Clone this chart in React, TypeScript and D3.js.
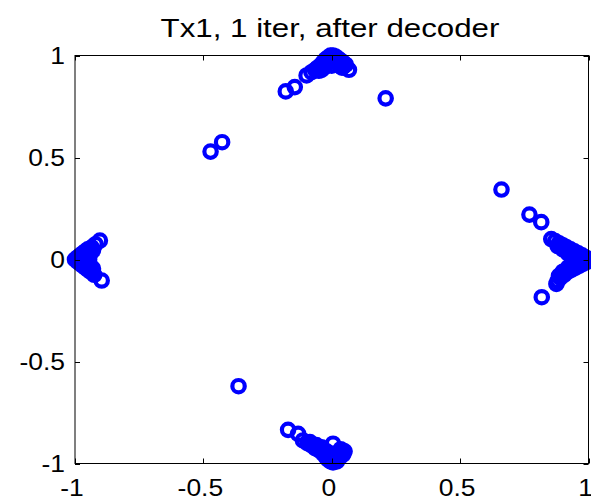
import React from "react";
import * as d3 from "d3";

const title = "Tx1, 1 iter, after decoder";
const xTicks = [-1, -0.5, 0, 0.5, 1];
const yTicks = [-1, -0.5, 0, 0.5, 1];

// Cluster near (0, 1)
const topX = [-0.179, -0.144, -0.098, -0.079, -0.065, -0.055, -0.045, -0.035, -0.025, -0.015, -0.005, 0.005, 0.015, 0.025, 0.035, 0.045, 0.055, 0.0, -0.02, 0.02, 0.01, -0.01, -0.04, -0.03, 0.03, 0.04, 0.0, -0.01, 0.01, -0.05, 0.0, 0.045, 0.067, 0.21];
const topY = [0.824, 0.845, 0.902, 0.918, 0.93, 0.94, 0.95, 0.965, 0.98, 0.99, 1.0, 1.0, 0.995, 0.985, 0.975, 0.965, 0.955, 0.97, 0.96, 0.97, 0.98, 0.975, 0.93, 0.94, 0.95, 0.94, 0.99, 0.99, 0.99, 0.925, 0.95, 0.945, 0.93, 0.79];

// Cluster near (1, 0)
const rightX = [0.661, 0.77, 0.816, 0.855, 0.87, 0.885, 0.9, 0.915, 0.93, 0.945, 0.96, 0.975, 0.99, 1.0, 0.875, 0.88, 0.89, 0.905, 0.92, 0.935, 0.95, 0.965, 0.98, 0.995, 0.94, 0.95, 0.95, 0.97, 0.9, 0.92, 0.95, 0.97, 0.9, 0.92, 0.98, 0.96, 0.99, 0.935, 0.935, 0.88, 0.885, 0.818];
const rightY = [0.343, 0.22, 0.183, 0.1, 0.09, 0.08, 0.07, 0.06, 0.05, 0.04, 0.03, 0.02, 0.01, 0.0, -0.12, -0.105, -0.09, -0.075, -0.06, -0.05, -0.04, -0.03, -0.02, -0.01, 0.0, 0.02, -0.02, 0.0, 0.05, 0.03, 0.03, 0.015, -0.06, -0.04, -0.005, 0.0, 0.0, 0.015, -0.015, 0.065, -0.08, -0.185];

// Cluster near (-1, 0)
const leftX = [-1.0, -0.99, -0.99, -0.98, -0.98, -0.97, -0.97, -0.96, -0.96, -0.95, -0.95, -0.935, -0.94, -0.925, -0.92, -0.96, -0.95, -0.95, -0.985, -0.975, -0.975, -0.965, -0.965, -0.94, -0.94, -0.93, -0.93, -0.945, -0.903, -0.896];
const leftY = [0.0, 0.01, -0.01, 0.02, -0.02, 0.03, -0.03, 0.04, -0.04, 0.05, -0.05, 0.06, -0.06, -0.075, 0.075, 0.0, 0.01, -0.01, 0.0, 0.01, -0.01, 0.02, -0.02, 0.03, -0.03, 0.045, -0.045, 0.0, 0.093, -0.103];

// Cluster near (0, -1)
const bottomX = [-0.17, -0.131, -0.112, -0.095, -0.08, -0.065, -0.05, -0.035, -0.025, -0.015, -0.005, 0.005, 0.015, 0.025, 0.035, 0.045, 0.05, 0.035, 0.02, 0.0, -0.01, -0.06, -0.04, -0.02, 0.0, 0.01, 0.03, 0.04, -0.085, 0.02, -0.01, 0.005];
const bottomY = [-0.835, -0.855, -0.887, -0.9, -0.91, -0.925, -0.935, -0.95, -0.965, -0.98, -0.99, -0.995, -0.985, -0.975, -0.965, -0.955, -0.94, -0.93, -0.95, -0.96, -0.95, -0.91, -0.92, -0.94, -0.975, -0.965, -0.945, -0.94, -0.895, -0.99, -0.97, -0.903];

// Stray points
const strayX = [-0.472, -0.427, -0.363];
const strayY = [0.529, 0.575, -0.621];

const W = 591;
const H = 503;
const L = 75, R = 588.5, T = 55.5, B = 463.5;

export default function App() {
  const x = d3.scaleLinear().domain([-1, 1]).range([L, R]);
  const y = d3.scaleLinear().domain([-1, 1]).range([B, T]);

  const groups: [number[], number[]][] = [
    [topX, topY],
    [rightX, rightY],
    [leftX, leftY],
    [bottomX, bottomY],
    [strayX, strayY],
  ];
  const pts: { x: number; y: number }[] = [];
  groups.forEach(([xs, ys]) => xs.forEach((v, i) => pts.push({ x: v, y: ys[i] })));

  const font = "'Liberation Sans', Arial, Helvetica, sans-serif";
  const sx = 1.15;

  return (
    <svg
      width={W}
      height={H}
      style={{ position: "absolute", left: 0, top: 0, background: "#fff" }}
    >
      <rect x={0} y={0} width={W} height={H} fill="#fff" />
      <g>
        {pts.map((p, i) => (
          <circle
            key={i}
            cx={x(p.x)}
            cy={y(p.y)}
            r={6.2}
            fill="none"
            stroke="#0000ff"
            strokeWidth={4.2}
          />
        ))}
      </g>
      <g stroke="#000" strokeWidth={1} fill="none">
        <rect x={L} y={T} width={R - L} height={B - T} />
        {xTicks.map((t, i) => (
          <g key={"xt" + i}>
            <line x1={Math.round(x(t)) + 0.5} x2={Math.round(x(t)) + 0.5} y1={B} y2={B - 5} />
            <line x1={Math.round(x(t)) + 0.5} x2={Math.round(x(t)) + 0.5} y1={T} y2={T + 5} />
          </g>
        ))}
        {yTicks.map((t, i) => (
          <g key={"yt" + i}>
            <line x1={L} x2={L + 5} y1={Math.round(y(t)) + 0.5} y2={Math.round(y(t)) + 0.5} />
            <line x1={R} x2={R - 5} y1={Math.round(y(t)) + 0.5} y2={Math.round(y(t)) + 0.5} />
          </g>
        ))}
      </g>
      <g fontFamily={font} fontSize={23} fill="#000">
        {xTicks.map((t, i) => (
          <text
            key={"xl" + i}
            transform={`translate(${x(t) - 3},${496}) scale(${sx},1)`}
            textAnchor="middle"
          >
            {String(t)}
          </text>
        ))}
        {yTicks.map((t, i) => (
          <text
            key={"yl" + i}
            transform={`translate(${65},${y(t) + 8.3}) scale(${sx},1)`}
            textAnchor="end"
          >
            {String(t)}
          </text>
        ))}
      </g>
      <text
        transform={`translate(${330},${36.7}) scale(1.18,1)`}
        textAnchor="middle"
        fontFamily={font}
        fontSize={26.5}
        fill="#000"
      >
        {title}
      </text>
    </svg>
  );
}
